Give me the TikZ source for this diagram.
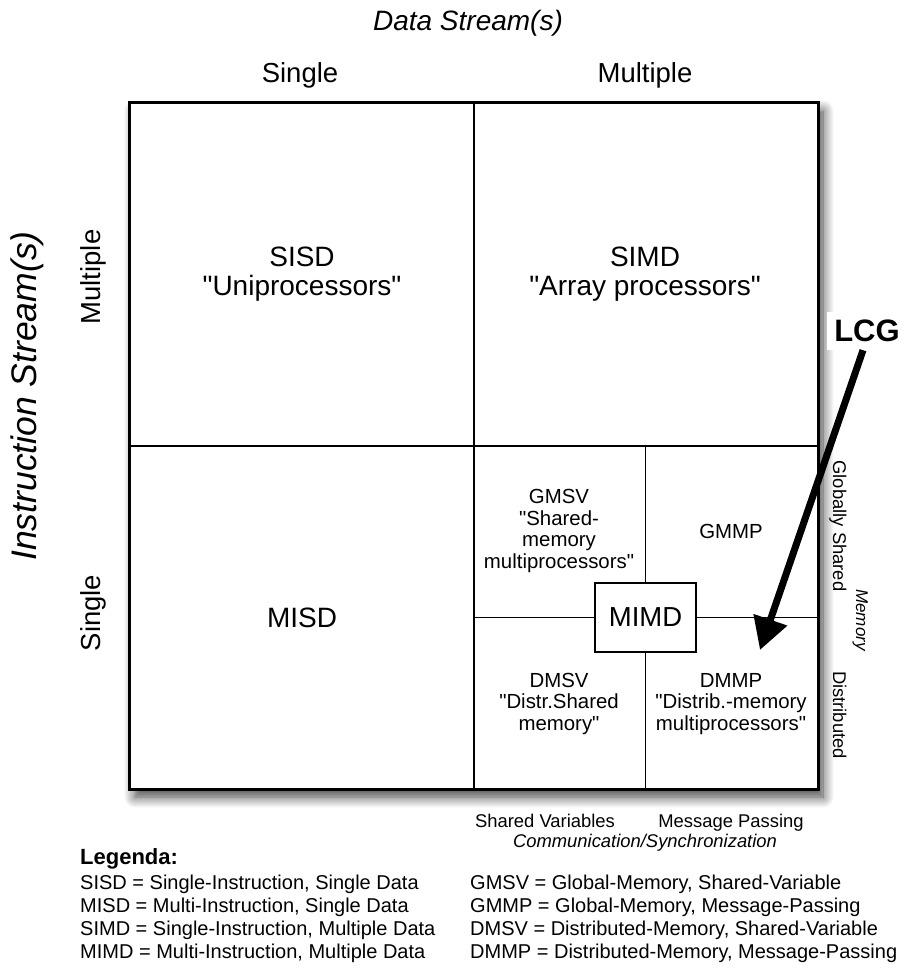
\documentclass[tikz,border=0pt]{standalone}
\usepackage{fontspec}
\setmainfont{Liberation Sans}[Ligatures=TeXOff]
\usetikzlibrary{shadows.blur,arrows.meta}
\begin{document}
\begin{tikzpicture}[x=1pt,y=-1pt,
  lab/.style={font=\fontsize{28}{28.5}\selectfont, align=center, anchor=base, inner sep=0pt},
  sublab/.style={font=\fontsize{20.4}{21.5}\selectfont, align=center, anchor=base, inner sep=0pt},
  axis/.style={font=\fontsize{27.5}{28}\selectfont, anchor=base, inner sep=0pt},
  axtitle/.style={font=\itshape\fontsize{28}{28}\selectfont, anchor=base, inner sep=0pt},
  side/.style={font=\fontsize{18.4}{18.4}\selectfont, anchor=base, inner sep=0pt},
  legline/.style={font=\fontsize{20}{20}\selectfont, anchor=base west, inner sep=0pt},
  midline/.style={line width=2pt},
  subline/.style={line width=1.6pt}
]
\useasboundingbox (0,0) rectangle (908,971);

% main grid with shadow
\node[draw, line width=2.4pt, fill=white,
      blur shadow={shadow xshift=5pt, shadow yshift=-8pt, shadow blur radius=11pt, shadow opacity=75, shadow blur steps=12},
      minimum width=688pt, minimum height=686pt, inner sep=0pt] (grid) at (474,446) {};

\draw[midline] (grid.north) -- (grid.south);
\draw[midline] (grid.west) -- (grid.east);

% MIMD box and sub-division
\node[draw, fill=white, line width=1.6pt, minimum width=101pt, minimum height=69pt, inner sep=0pt,
      font=\fontsize{27.5}{28}\selectfont] (mimd) at (645.5,617.5) {MIMD};
\coordinate (qn) at (mimd |- grid.center);
\coordinate (qs) at (mimd |- grid.south);
\coordinate (qw) at (grid.center |- mimd);
\coordinate (qe) at (grid.east |- mimd);
\draw[subline] (qn) -- (mimd.north);
\draw[subline] (mimd.south) -- (qs);
\draw[subline] (qw) -- (mimd.west);
\draw[subline] (mimd.east) -- (qe);
\draw[line width=2.4pt] (grid.north west) rectangle (grid.south east);

% cell labels (base = last line)
\node[lab] (sisd) at (302,295) {SISD\\"Uniprocessors"};
\node[lab] (simd) at (645,295) {SIMD\\"Array processors"};
\node[lab] (misd) at (302,627) {MISD};
\node[sublab] (gmsv) at (559,568) {GMSV\\"Shared-\\memory\\multiprocessors"};
\node[sublab] (gmmp) at (731,538) {GMMP};
\node[sublab] (dmsv) at (559,730) {DMSV\\"Distr.Shared\\memory"};
\node[sublab] (dmmp) at (731,730) {DMMP\\"Distrib.-memory\\multiprocessors"};

% axis labels
\node[axtitle] (ds) at (468,31) {Data Stream(s)};
\node[axis] (dsingle) at (300,83) {Single};
\node[axis] (dmult) at (645,83) {Multiple};
\node[axtitle, rotate=90, font=\itshape\fontsize{35.5}{35.5}\selectfont] (is) at (36,396) {Instruction Stream(s)};
\node[axis, rotate=90] (imult) at (100,277) {Multiple};
\node[axis, rotate=90] (isingle) at (100,613) {Single};

% memory labels
\node[side, rotate=-90] (glob) at (833,526) {Globally Shared};
\node[side, rotate=-90, font=\itshape\fontsize{17}{17}\selectfont] (mem) at (856,620) {Memory};
\node[side, rotate=-90] (dist) at (833,715) {Distributed};

% communication labels
\node[side] (shv) at (545,827) {Shared Variables};
\node[side] (msgp) at (731,827) {Message Passing};
\node[side, font=\itshape\fontsize{18.4}{18.4}\selectfont] (comm) at (645,847) {Communication/Synchronization};

% LCG arrow
\node[fill=white, minimum width=80pt, minimum height=38pt, inner sep=0pt,
      font=\bfseries\fontsize{31}{31}\selectfont] (lcg) at (867,331) {LCG};
\coordinate (lcgtip) at (760,650);
\draw[line width=7pt, -{Triangle[length=32pt,width=34pt]}] ([xshift=-4pt]lcg.south) -- (lcgtip);

% legend
\node[anchor=base west, inner sep=0pt, font=\bfseries\fontsize{22}{22}\selectfont] (leg) at (80,864) {Legenda:};
\node[legline] (l1) at (80,889) {SISD = Single-Instruction, Single Data};
\node[legline] (l2) at (80,912) {MISD = Multi-Instruction, Single Data};
\node[legline] (l3) at (80,935) {SIMD = Single-Instruction, Multiple Data};
\node[legline] (l4) at (80,958) {MIMD = Multi-Instruction, Multiple Data};
\node[legline] (r1) at (470,889) {GMSV = Global-Memory, Shared-Variable};
\node[legline] (r2) at (470,912) {GMMP = Global-Memory, Message-Passing};
\node[legline] (r3) at (470,935) {DMSV = Distributed-Memory, Shared-Variable};
\node[legline] (r4) at (470,958) {DMMP = Distributed-Memory, Message-Passing};
\end{tikzpicture}
\end{document}
